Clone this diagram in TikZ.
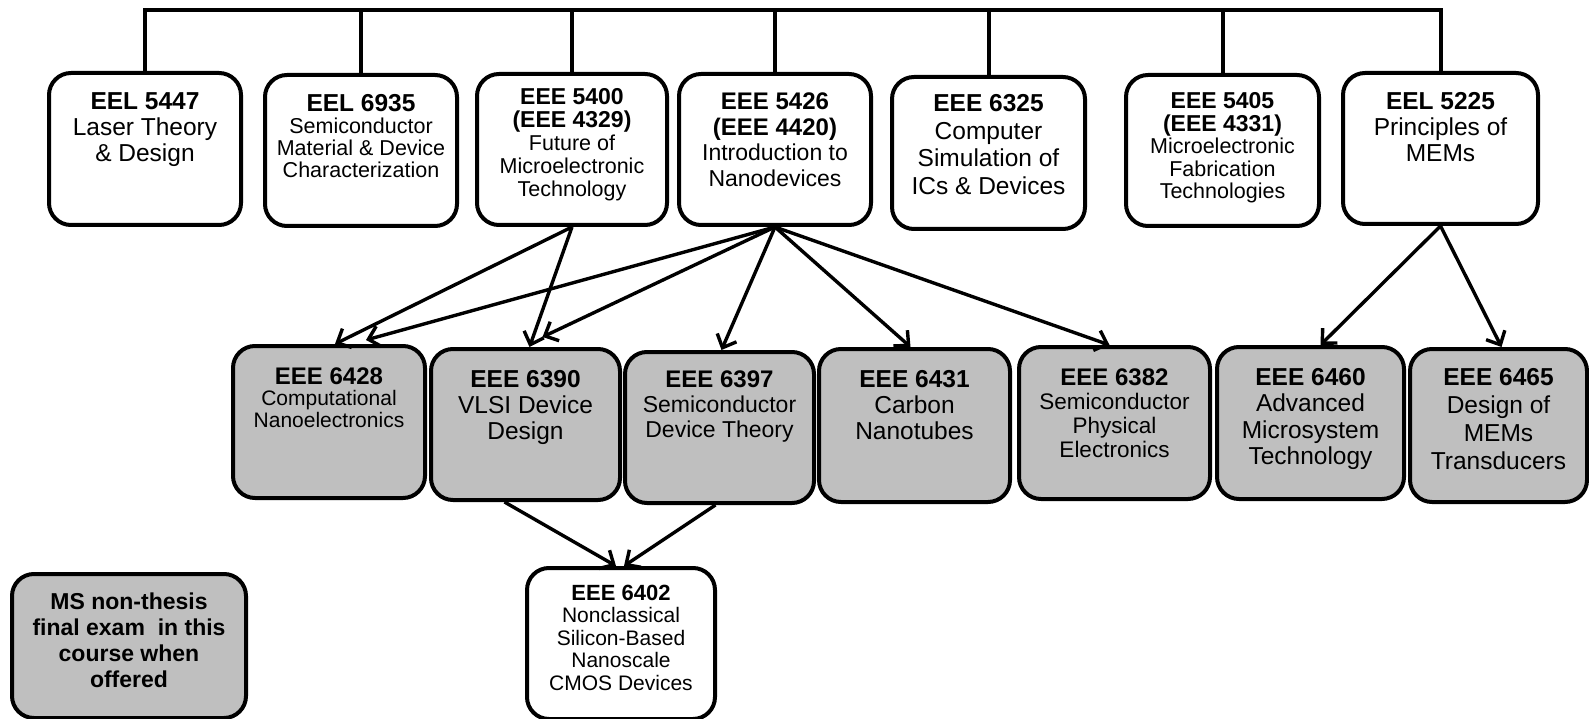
\documentclass[tikz,border=0pt]{standalone}
\usepackage{fontspec}
\setmainfont{Liberation Sans}
\usetikzlibrary{arrows.meta}
\definecolor{boxgray}{RGB}{191,191,191}
\newcommand{\bx}[4]{\parbox[c][#2pt][t]{#1pt}{\centering\rule{0pt}{#3pt}#4}}
\newcommand{\fs}[2]{\fontsize{#1pt}{#2pt}\selectfont}
\begin{document}
\begin{tikzpicture}[x=1pt,y=-1pt,
  box/.style={draw=black, line width=4pt, rounded corners=22pt, inner sep=0pt, fill=white, anchor=north west},
  gbox/.style={box, fill=boxgray},
  link/.style={line width=4pt},
  arr/.style={line width=3.4pt, -{Straight Barb[length=11pt,width=21pt]}}]
\useasboundingbox (0,0) rectangle (1589,719);

% top row
\node[box] (c5447) at (47,71) {\bx{192}{152}{37}{\fs{24.5}{26}{\bfseries EEL 5447}\\Laser Theory\\\& Design}};
\node[box] (c6935) at (263,73) {\bx{192}{151}{37}{\fs{21.5}{22}{\fs{24.5}{22}\bfseries EEL 6935}\\Semiconductor\\Material \& Device\\Characterization}};
\node[box] (c5400) at (475,72) {\bx{190}{151}{31}{\fs{21.5}{23}{\fs{23}{24}\bfseries EEE 5400}\\{\fs{23}{24}\bfseries (EEE 4329)}\\Future of\\Microelectronic\\Technology}};
\node[box] (c5426) at (677,72) {\bx{192}{151}{36}{\fs{23}{25.5}{\fs{24}{25.5}\bfseries EEE 5426}\\{\fs{24}{25.5}\bfseries (EEE 4420)}\\Introduction to\\Nanodevices}};
\node[box] (c6325) at (890,75) {\bx{193}{152}{35}{\fs{24.5}{27.5}{\bfseries EEE 6325}\\Computer\\Simulation of\\ICs \& Devices}};
\node[box] (c5405) at (1124,73) {\bx{193}{151}{34}{\fs{21.5}{22.5}{\fs{23}{23}\bfseries EEE 5405}\\{\fs{23}{23}\bfseries (EEE 4331)}\\Microelectronic\\Fabrication\\Technologies}};
\node[box] (c5225) at (1341,71) {\bx{195}{151}{37}{\fs{24.5}{26}{\bfseries EEL 5225}\\Principles of\\MEMs}};

% middle row
\node[gbox] (c6428) at (231,344) {\bx{192}{152}{38}{\fs{21}{21.5}{\fs{24}{21.5}\bfseries EEE 6428}\\Computational\\Nanoelectronics}};
\node[gbox] (c6390) at (429,347) {\bx{189}{151}{38}{\fs{24.5}{26}{\bfseries EEE 6390}\\VLSI Device\\Design}};
\node[gbox] (c6397) at (623,350) {\bx{189}{151}{35}{\fs{23}{25}{\fs{24}{25}\bfseries EEE 6397}\\Semiconductor\\Device Theory}};
\node[gbox] (c6431) at (817,347) {\bx{191}{153}{38}{\fs{24.5}{26}{\bfseries EEE 6431}\\Carbon\\Nanotubes}};
\node[gbox] (c6382) at (1017,345) {\bx{191}{152}{38}{\fs{22.5}{24}{\fs{24}{24}\bfseries EEE 6382}\\Semiconductor\\Physical\\Electronics}};
\node[gbox] (c6460) at (1215,345) {\bx{187}{152}{38}{\fs{24.5}{26.5}{\bfseries EEE 6460}\\Advanced\\Microsystem\\Technology}};
\node[gbox] (c6465) at (1408,347) {\bx{177}{153}{36}{\fs{24.5}{28}{\bfseries EEE 6465}\\Design of\\MEMs\\Transducers}};

% bottom
\node[box] (c6402) at (525,566) {\bx{188}{151}{32}{\fs{21}{22.5}{\fs{22}{22.5}\bfseries EEE 6402}\\Nonclassical\\Silicon-Based\\Nanoscale\\CMOS Devices}};
\node[gbox] (ms) at (10,572) {\bx{234}{144}{35}{\fs{23}{26}\bfseries MS non-thesis\\final exam\ \ in this\\course when\\offered}};

% top bar
\coordinate (bary) at (0,10);
\draw[link] (c5447.north) -- (c5447.north |- bary) -- (c5225.north |- bary) -- (c5225.north);
\foreach \n in {c6935,c5400,c5426,c6325,c5405}
  \draw[link] (\n.north) -- (\n.north |- bary);

% arrows
\draw[arr] (c5400.south) -- ([xshift=6pt]c6428.north);
\draw[arr] (c5400.south) -- ([xshift=4pt]c6390.north);
\draw[arr] (c5426.south) -- ([xshift=37pt,yshift=4pt]c6428.north);
\draw[arr] (c5426.south) -- ([xshift=17pt,yshift=10pt]c6390.north);
\draw[arr] (c5426.south) -- ([xshift=2pt]c6397.north);
\draw[arr] (c5426.south) -- ([xshift=-4pt]c6431.north);
\draw[arr] (c5426.south) -- ([xshift=-5pt]c6382.north);
\draw[arr] (c5225.south) -- ([xshift=10pt]c6460.north);
\draw[arr] (c5225.south) -- ([xshift=3pt]c6465.north);
\draw[arr] ([xshift=-21pt]c6390.south) -- ([xshift=-5pt]c6402.north);
\draw[arr] ([xshift=-4pt]c6397.south) -- ([xshift=3pt]c6402.north);
\end{tikzpicture}
\end{document}
